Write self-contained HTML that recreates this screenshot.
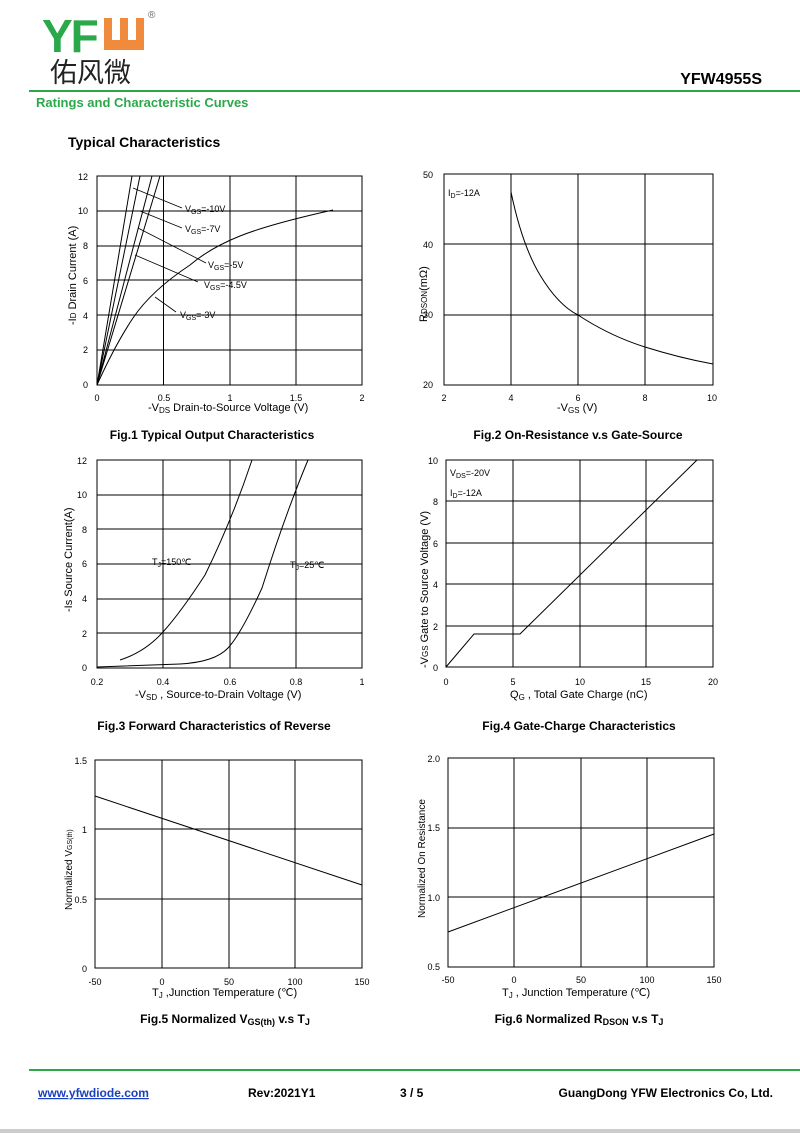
<!DOCTYPE html><html><head><meta charset="utf-8"><style>body{margin:0;background:#fff}svg{display:block}text{font-family:"Liberation Sans",Arial,sans-serif}</style></head><body>
<svg width="800" height="1133" viewBox="0 0 800 1133" xmlns="http://www.w3.org/2000/svg">
<text x="42" y="52" font-size="46" font-weight="bold" fill="#2aa84a" letter-spacing="-2">YF</text>
<path d="M104 18h8v22h8v-22h8v22h8v-22h8v32h-40z" fill="#f08a3c"/>
<text x="148" y="18" font-size="10" fill="#666">®</text>
<text x="50" y="82" font-size="27" font-family="Noto Sans CJK SC,sans-serif" fill="#222" style="font-family:'Noto Sans CJK SC',sans-serif">佑风微</text>
<text x="762" y="84" font-size="16" font-weight="bold" text-anchor="end">YFW4955S</text>
<rect x="29" y="90" width="771" height="2" fill="#2aa84a"/>
<text x="36" y="107" font-size="13" font-weight="bold" fill="#2aa84a">Ratings and Characteristic Curves</text>
<text x="68" y="147" font-size="14" font-weight="bold">Typical Characteristics</text>
<g stroke="#000" stroke-width="1" fill="none">
<!-- Fig1 -->
<rect x="97" y="176" width="265" height="209"/>
<path d="M163.5 176V385M230 176V385M296 176V385M97 211H362M97 246H362M97 280H362M97 315H362M97 350H362"/>
<path d="M97 385L132 176M97 385L140 176M97 385L152 176M97 385L160 176"/>
<path d="M97 385Q115 345 133 318T190 265Q210 248 240 236T333 210"/>
<path d="M133 188L182 208M140 211L182 228M138 228L206 263M135 255L198 282M155 297L176 312" stroke-width="0.8"/>
<!-- Fig2 -->
<rect x="444" y="174" width="269" height="211"/>
<path d="M511 174V385M578 174V385M645 174V385M444 244H713M444 315H713"/>
<path d="M511 192Q522 245 540 275T578 315Q610 336 645 347T713 364"/>
<!-- Fig3 -->
<rect x="97" y="460" width="265" height="208"/>
<path d="M163 460V668M230 460V668M296 460V668M97 495H362M97 529H362M97 564H362M97 599H362M97 633H362"/>
<path d="M120 660Q145 652 163 632T205 575Q232 520 252 460"/>
<path d="M97 667L180 664Q215 662 228 648T262 588Q285 515 308 460"/>
<!-- Fig4 -->
<rect x="446" y="460" width="267" height="207"/>
<path d="M513 460V667M580 460V667M646 460V667M446 501H713M446 543H713M446 584H713M446 626H713"/>
<path d="M446 667L474 634L520 634L697 460"/>
<!-- Fig5 -->
<rect x="95" y="760" width="267" height="208"/>
<path d="M162 760V968M229 760V968M295 760V968M95 829H362M95 899H362"/>
<path d="M95 796L362 885"/>
<!-- Fig6 -->
<rect x="448" y="758" width="266" height="209"/>
<path d="M514 758V967M581 758V967M647 758V967M448 828H714M448 897H714"/>
<path d="M448 932L714 834"/>
</g>
<g font-size="9" fill="#000">
<g text-anchor="end"><text x="88" y="180">12</text><text x="88" y="214">10</text><text x="88" y="249">8</text><text x="88" y="284">6</text><text x="88" y="319">4</text><text x="88" y="353">2</text><text x="88" y="388">0</text></g>
<g text-anchor="middle"><text x="97" y="401">0</text><text x="164" y="401">0.5</text><text x="230" y="401">1</text><text x="296" y="401">1.5</text><text x="362" y="401">2</text></g>
<text x="185" y="212">V<tspan font-size="7" dy="2">GS</tspan><tspan dy="-2">=-10V</tspan></text>
<text x="185" y="232">V<tspan font-size="7" dy="2">GS</tspan><tspan dy="-2">=-7V</tspan></text>
<text x="208" y="268">V<tspan font-size="7" dy="2">GS</tspan><tspan dy="-2">=-5V</tspan></text>
<text x="204" y="288">V<tspan font-size="7" dy="2">GS</tspan><tspan dy="-2">=-4.5V</tspan></text>
<text x="180" y="318">V<tspan font-size="7" dy="2">GS</tspan><tspan dy="-2">=-3V</tspan></text>
<text x="148" y="411" font-size="11">-V<tspan font-size="8" dy="2">DS</tspan><tspan dy="-2"> Drain-to-Source Voltage (V)</tspan></text>
<text transform="translate(76 325) rotate(-90)" font-size="11">-I<tspan font-size="8">D</tspan> Drain Current (A)</text>
<g text-anchor="end"><text x="433" y="178">50</text><text x="433" y="248">40</text><text x="433" y="318">30</text><text x="433" y="388">20</text></g>
<g text-anchor="middle"><text x="444" y="401">2</text><text x="511" y="401">4</text><text x="578" y="401">6</text><text x="645" y="401">8</text><text x="712" y="401">10</text></g>
<text x="448" y="196">I<tspan font-size="7" dy="2">D</tspan><tspan dy="-2">=-12A</tspan></text>
<text x="557" y="411" font-size="11">-V<tspan font-size="8" dy="2">GS</tspan><tspan dy="-2"> (V)</tspan></text>
<text transform="translate(427 322) rotate(-90)" font-size="11">R<tspan font-size="8">DSON</tspan>(mΩ)</text>
<g text-anchor="end"><text x="87" y="464">12</text><text x="87" y="498">10</text><text x="87" y="533">8</text><text x="87" y="567">6</text><text x="87" y="602">4</text><text x="87" y="637">2</text><text x="87" y="671">0</text></g>
<g text-anchor="middle"><text x="97" y="685">0.2</text><text x="163" y="685">0.4</text><text x="230" y="685">0.6</text><text x="296" y="685">0.8</text><text x="362" y="685">1</text></g>
<text x="152" y="565">T<tspan font-size="7" dy="2">J</tspan><tspan dy="-2">=150℃</tspan></text>
<text x="290" y="568">T<tspan font-size="7" dy="2">J</tspan><tspan dy="-2">=25℃</tspan></text>
<text x="135" y="698" font-size="11">-V<tspan font-size="8" dy="2">SD</tspan><tspan dy="-2"> , Source-to-Drain Voltage (V)</tspan></text>
<text transform="translate(72 612) rotate(-90)" font-size="11">-Is Source Current(A)</text>
<g text-anchor="end"><text x="438" y="464">10</text><text x="438" y="505">8</text><text x="438" y="547">6</text><text x="438" y="588">4</text><text x="438" y="630">2</text><text x="438" y="671">0</text></g>
<g text-anchor="middle"><text x="446" y="685">0</text><text x="513" y="685">5</text><text x="580" y="685">10</text><text x="646" y="685">15</text><text x="713" y="685">20</text></g>
<text x="450" y="476">V<tspan font-size="7" dy="2">DS</tspan><tspan dy="-2">=-20V</tspan></text>
<text x="450" y="496">I<tspan font-size="7" dy="2">D</tspan><tspan dy="-2">=-12A</tspan></text>
<text x="510" y="698" font-size="11">Q<tspan font-size="8" dy="2">G</tspan><tspan dy="-2"> , Total Gate Charge (nC)</tspan></text>
<text transform="translate(428 668) rotate(-90)" font-size="11">-V<tspan font-size="8">GS</tspan> Gate to Source Voltage (V)</text>
<g text-anchor="end"><text x="87" y="764">1.5</text><text x="87" y="833">1</text><text x="87" y="903">0.5</text><text x="87" y="972">0</text></g>
<g text-anchor="middle"><text x="95" y="985">-50</text><text x="162" y="985">0</text><text x="229" y="985">50</text><text x="295" y="985">100</text><text x="362" y="985">150</text></g>
<text x="152" y="996" font-size="11">T<tspan font-size="8" dy="2">J</tspan><tspan dy="-2"> ,Junction Temperature (℃)</tspan></text>
<text transform="translate(72 910) rotate(-90)" font-size="10">Normalized V<tspan font-size="7">GS(th)</tspan></text>
<g text-anchor="end"><text x="440" y="762">2.0</text><text x="440" y="831">1.5</text><text x="440" y="901">1.0</text><text x="440" y="970">0.5</text></g>
<g text-anchor="middle"><text x="448" y="983">-50</text><text x="514" y="983">0</text><text x="581" y="983">50</text><text x="647" y="983">100</text><text x="714" y="983">150</text></g>
<text x="502" y="996" font-size="11">T<tspan font-size="8" dy="2">J</tspan><tspan dy="-2"> , Junction Temperature (℃)</tspan></text>
<text transform="translate(425 918) rotate(-90)" font-size="10">Normalized On Resistance</text>
</g>
<g font-size="12" font-weight="bold" text-anchor="middle">
<text x="212" y="439">Fig.1 Typical Output Characteristics</text>
<text x="578" y="439">Fig.2 On-Resistance v.s Gate-Source</text>
<text x="214" y="730">Fig.3 Forward Characteristics of Reverse</text>
<text x="579" y="730">Fig.4 Gate-Charge Characteristics</text>
<text x="225" y="1023">Fig.5 Normalized V<tspan font-size="9" dy="2">GS(th)</tspan><tspan dy="-2"> v.s T</tspan><tspan font-size="9" dy="2">J</tspan></text>
<text x="579" y="1023">Fig.6 Normalized R<tspan font-size="9" dy="2">DSON</tspan><tspan dy="-2"> v.s T</tspan><tspan font-size="9" dy="2">J</tspan></text>
</g>
<rect x="29" y="1069" width="771" height="2" fill="#2aa84a"/>
<text x="38" y="1097" font-size="12" font-weight="bold" fill="#1a3fbf" text-decoration="underline">www.yfwdiode.com</text>
<text x="248" y="1097" font-size="12" font-weight="bold">Rev:2021Y1</text>
<text x="400" y="1097" font-size="12" font-weight="bold">3 / 5</text>
<text x="773" y="1097" font-size="12" font-weight="bold" text-anchor="end">GuangDong YFW Electronics Co, Ltd.</text>
<rect x="0" y="1129" width="800" height="4" fill="#ccc"/>
</svg></body></html>
